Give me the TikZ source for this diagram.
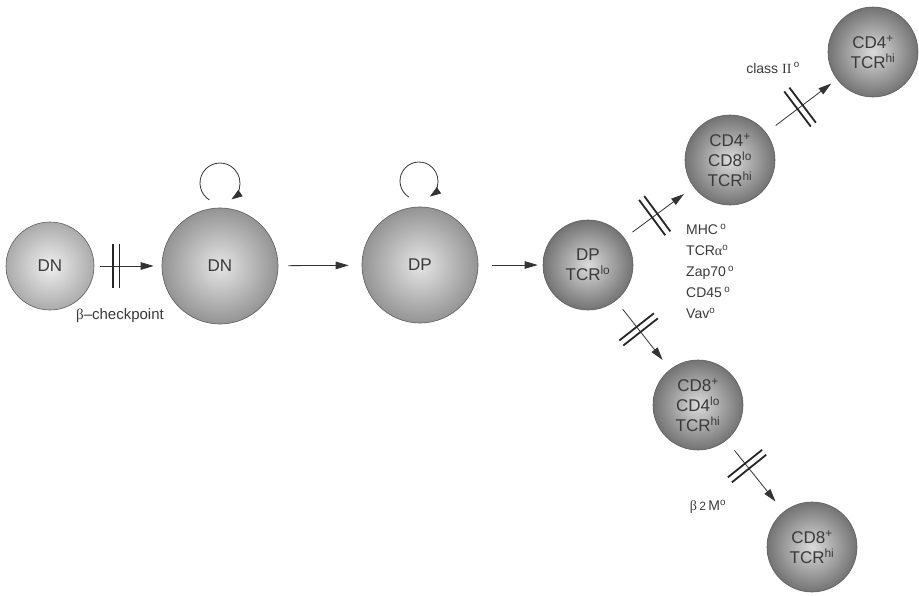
\documentclass[tikz,border=0pt]{standalone}
\usepackage{fontspec}
\setmainfont{Liberation Sans}
\newfontfamily\grk{Liberation Serif}
\usetikzlibrary{arrows.meta,calc}
\definecolor{ink}{HTML}{3A3A3A}
\definecolor{rim}{HTML}{5E5E5E}
\tikzset{
  cellA/.style={circle, draw=rim, line width=0.6pt, inner sep=0pt, minimum size=#1,
    inner color=black!6, outer color=black!33, align=center, text=ink,
    font=\fontsize{17}{20}\selectfont},
  cellB/.style={circle, draw=rim, line width=0.6pt, inner sep=0pt, minimum size=#1,
    inner color=black!10, outer color=black!42, align=center, text=ink,
    font=\fontsize{17}{20}\selectfont},
  cellC/.style={circle, draw=rim, line width=0.6pt, inner sep=0pt, minimum size=#1,
    inner color=black!14, outer color=black!55, align=center, text=ink,
    font=\fontsize{17}{20}\selectfont},
  lbl/.style={text=ink, inner sep=0pt, font=\fontsize{14}{21}\selectfont},
  arr/.style={draw=black!80, line width=0.8pt, -{Triangle[length=13pt,width=7.5pt]}},
  selfloop/.style={draw=black!80, line width=0.8pt, -{Triangle[length=11pt,width=7.5pt]}},
  hashline/.style={draw=black!85, line width=1.8pt}
}
\newcommand\hashmark[3]{%
  \coordinate (hm) at ($(#1)!#3!(#2)$);
  \coordinate (hp) at ($(hm)!3.2pt!(#2)$);
  \coordinate (hq) at ($(hm)!-3.2pt!(#2)$);
  \draw[hashline] ($(hp)!22pt!90:(#2)$) -- ($(hp)!22pt!-90:(#2)$)
                  ($(hq)!22pt!90:(#2)$) -- ($(hq)!22pt!-90:(#2)$);
}
\begin{document}
\begin{tikzpicture}[x=1pt,y=-1pt]
\useasboundingbox[fill=white] (0,0) rectangle (919,595);

\node[cellA=88pt] (dn1) at (50,266) {DN};
\node[cellB=116pt] (dn2) at (220,266) {DN};
\node[cellB=116pt] (dp) at (420,265) {DP};
\node[cellC=90pt] (dplo) at (588,265) {DP\\TCR\textsuperscript{lo}};
\node[cellC=90pt] (cd4a) at (730,160) {CD4\textsuperscript{+}\\CD8\textsuperscript{lo}\\TCR\textsuperscript{hi}};
\node[cellC=90pt] (cd4b) at (873,52) {CD4\textsuperscript{+}\\TCR\textsuperscript{hi}};
\node[cellC=90pt] (cd8a) at (698,405) {CD8\textsuperscript{+}\\CD4\textsuperscript{lo}\\TCR\textsuperscript{hi}};
\node[cellC=90pt] (cd8b) at (812,547) {CD8\textsuperscript{+}\\TCR\textsuperscript{hi}};

% horizontal arrows
\draw[arr, shorten <=6pt, shorten >=8pt] (dn1) -- (dn2);
\draw[arr, shorten <=10pt, shorten >=13pt] (dn2) -- (dp);
\draw[arr, shorten <=14pt, shorten >=5pt] (dp) -- (dplo);

% diagonal arrows
\draw[arr, shorten <=10pt, shorten >=12pt] (dplo) -- (cd4a);
\draw[arr, shorten <=12pt, shorten >=7pt] (cd4a) -- (cd4b);
\draw[arr, shorten <=11pt, shorten >=12pt] (dplo) -- (cd8a);
\draw[arr, shorten <=13pt, shorten >=13pt] (cd8a) -- (cd8b);

% blocks
\hashmark{dn1}{dn2}{0.39}
\hashmark{dplo}{cd4a}{0.47}
\hashmark{cd4a}{cd4b}{0.49}
\hashmark{dplo}{cd8a}{0.46}
\hashmark{cd8a}{cd8b}{0.43}

% self-renewal loops
\coordinate (l1) at (220,183);
\coordinate (l2) at (419,181);
\draw[selfloop] ([shift={(-122:20pt)}]l1) arc[start angle=-122, end angle=-415, radius=20pt];
\draw[selfloop] ([shift={(-122:19pt)}]l2) arc[start angle=-122, end angle=-415, radius=19pt];

% labels
\node[lbl, font=\fontsize{15}{18}\selectfont] (chk) at (120,316) {{\grk β}–checkpoint};
\node[lbl] (cls) at (773,68) {class {\grk II}\,\textsuperscript{o}};
\node[lbl, anchor=north west, align=left] (mk) at (686,224)
  {MHC\,\textsuperscript{o}\\TCR{\grk α}\textsuperscript{o}\\Zap70\,\textsuperscript{o}\\CD45\,\textsuperscript{o}\\Vav\textsuperscript{o}};
\node[lbl] (b2m) at (708,507) {{\grk β}\,{\fontsize{12}{12}\selectfont 2}\,M\textsuperscript{o}};
\end{tikzpicture}
\end{document}
